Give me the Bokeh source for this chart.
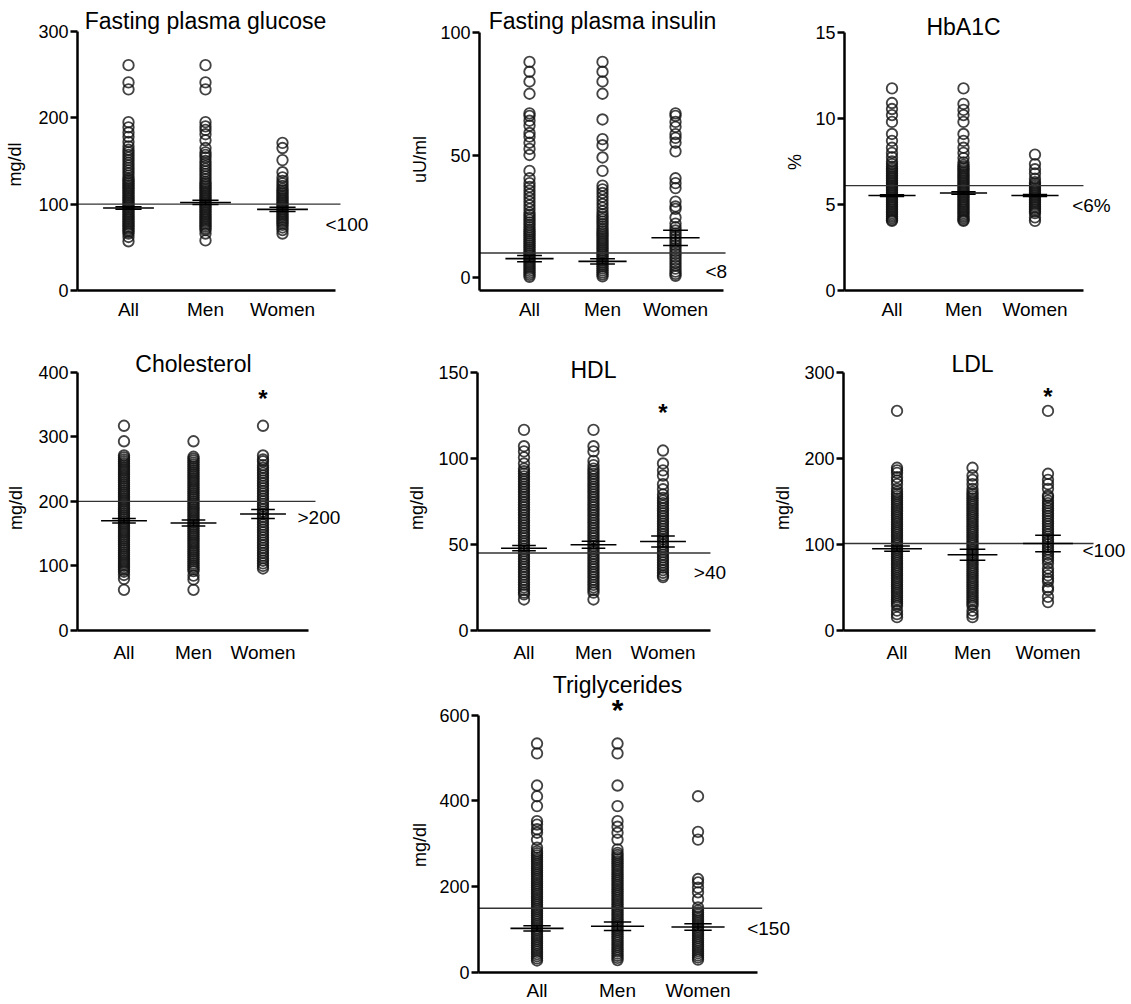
from bokeh.plotting import figure
from bokeh.layouts import row, column
from bokeh.models import FixedTicker, Spacer, Range1d
from bokeh.core.properties import value
from bokeh.embed import file_html
from bokeh.resources import INLINE

FONT = "Liberation Sans"
groups = ["All", "Men", "Women"]

# ---------------- data ----------------
glucose_all = [261, 241, 233, 195, 189, 183, 178, 172, 167, 163, 160, 157, 154, 151, 148, 145, 142, 139,
               136, 133, 130, 128, 126, 124, 122, 120, 118, 116, 114, 112, 110, 108, 106, 104, 102, 100,
               98, 96, 94, 92, 90, 88, 86, 84, 82, 80, 78, 76, 74, 72, 70, 68, 66, 62, 57]
glucose_men = [261, 241, 233, 195, 190, 186, 181, 174, 165, 160, 157, 154, 150, 147, 144, 141, 138, 135,
               132, 129, 126, 124, 122, 120, 118, 116, 114, 112, 110, 108, 106, 104, 102, 100, 98, 96,
               94, 92, 90, 88, 86, 84, 82, 80, 78, 76, 74, 72, 70, 66, 58]
glucose_women = [171, 165, 151, 137, 131, 127, 124, 121, 118, 116, 114, 112, 110, 108, 106, 104, 102, 100,
                 98, 96, 94, 92, 90, 88, 86, 84, 82, 80, 78, 76, 73, 70, 66]
glucose_mean = [95.5, 102, 94]
glucose_sem = [1.5, 2.5, 2.5]

insulin_all = [88, 84, 80, 75, 67, 66, 64, 62, 59, 57.5, 55, 52.5, 50, 43.5, 40.5, 38.5, 37, 35.5, 34,
               32.5, 31, 29.5, 28, 26.5, 25.5, 24.5, 23.5, 22.5, 21.5, 20.5, 19.5, 18.7, 17.9, 17.1, 16.3,
               15.5, 14.7, 13.9, 13.1, 12.3, 11.5, 10.7, 9.9, 9.1, 8.3, 7.5, 6.7, 5.9, 5.1, 4.3, 3.5, 2.7,
               1.9, 1.1, 0.3]
insulin_men = [88, 84, 80, 75, 64.5, 56.5, 54, 49, 43.5, 37.5, 36, 34.5, 33, 31.5, 30, 28.5, 27, 25.8,
               24.8, 23.8, 22.8, 21.8, 20.8, 19.8, 18.9, 18.1, 17.3, 16.5, 15.7, 14.9, 14.1, 13.3, 12.5,
               11.7, 10.9, 10.1, 9.3, 8.5, 7.7, 6.9, 6.1, 5.3, 4.5, 3.7, 2.9, 2.1, 1.3, 0.5]
insulin_women = [67, 66, 63.5, 61.5, 58.5, 57, 55, 51.5, 40.5, 38.5, 36.5, 31, 29, 28, 24.5, 22, 20.5,
                 19.2, 18, 16.8, 15.6, 14.4, 13.2, 12, 10.8, 9.6, 8.4, 7.2, 6, 4.8, 3.6, 2.4, 1.5, 0.7]
insulin_mean = [7.7, 6.6, 16.2]
insulin_sem = [1.25, 1.1, 3.1]

hba1c_all = [11.75, 10.9, 10.55, 10.2, 9.8, 9.1, 8.7, 8.3, 8.0, 7.75, 7.5, 7.35, 7.2, 7.1, 7.0, 6.9, 6.8,
             6.7, 6.6, 6.5, 6.4, 6.3, 6.2, 6.1, 6.0, 5.9, 5.8, 5.7, 5.6, 5.5, 5.4, 5.3, 5.2, 5.1, 5.0, 4.9,
             4.8, 4.7, 4.6, 4.5, 4.4, 4.3, 4.2, 4.1, 4.05]
hba1c_men = [11.75, 10.85, 10.5, 10.2, 9.8, 9.1, 8.7, 8.3, 8.0, 7.7, 7.45, 7.3, 7.2, 7.1, 7.0, 6.9, 6.8,
             6.7, 6.6, 6.5, 6.4, 6.3, 6.2, 6.1, 6.0, 5.9, 5.8, 5.7, 5.6, 5.5, 5.4, 5.3, 5.2, 5.1, 5.0, 4.9,
             4.8, 4.7, 4.6, 4.5, 4.4, 4.3, 4.2, 4.1, 4.05]
hba1c_women = [7.9, 7.35, 7.05, 6.8, 6.5, 6.3, 6.2, 6.1, 6.0, 5.9, 5.8, 5.7, 5.6, 5.5, 5.4, 5.3, 5.2, 5.1,
               5.0, 4.9, 4.8, 4.7, 4.6, 4.5, 4.25, 4.05]
hba1c_mean = [5.52, 5.67, 5.52]
hba1c_sem = [0.05, 0.07, 0.06]

chol_all = [317, 293, 271, 268, 265, 262, 259, 256, 253, 250, 247, 244, 241, 238, 235, 232, 229, 226, 223,
            220, 217, 214, 211, 208, 205, 202, 199, 196, 193, 190, 187, 184, 181, 178, 175, 172, 169, 166,
            163, 160, 157, 154, 151, 148, 145, 142, 139, 136, 133, 130, 127, 124, 121, 118, 115, 112, 109,
            106, 103, 100, 97, 94, 91, 86, 80, 63]
chol_men = [293, 269, 266, 263, 260, 257, 254, 251, 248, 245, 242, 239, 236, 233, 230, 227, 224, 221, 218,
            215, 212, 209, 206, 203, 200, 197, 194, 191, 188, 185, 182, 179, 176, 173, 170, 167, 164, 161,
            158, 155, 152, 149, 146, 143, 140, 137, 134, 131, 128, 125, 122, 119, 116, 113, 110, 107, 104,
            101, 98, 95, 92, 85, 79, 63]
chol_women = [317, 271, 265, 262, 256, 252, 248, 244, 240, 236, 232, 228, 224, 220, 216, 212, 208, 204,
              200, 196, 192, 188, 184, 180, 176, 172, 168, 164, 160, 156, 152, 148, 144, 140, 136, 132,
              128, 124, 120, 116, 112, 108, 104, 100, 96]
chol_mean = [170, 166.5, 180.5]
chol_sem = [3.5, 4.5, 7]

hdl_all = [116.5, 107, 104, 100.5, 97, 94, 92.5, 91, 89.5, 88, 86.5, 85, 83.5, 82, 80.5, 79, 77.5, 76,
           74.5, 73, 71.5, 70, 68.5, 67, 65.5, 64, 62.5, 61, 59.5, 58, 56.5, 55, 53.5, 52, 50.5, 49, 47.5,
           46, 44.5, 43, 41.5, 40, 38.5, 37, 35.5, 34, 32.5, 31, 29.5, 28, 26.5, 25, 23.5, 22, 21, 18]
hdl_men = [116.5, 107, 104, 98.5, 96, 94, 92.5, 91, 89.5, 88, 86.5, 85, 83.5, 82, 80.5, 79, 77.5, 76,
           74.5, 73, 71.5, 70, 68.5, 67, 65.5, 64, 62.5, 61, 59.5, 58, 56.5, 55, 53.5, 52, 50.5, 49, 47.5,
           46, 44.5, 43, 41.5, 40, 38.5, 37, 35.5, 34, 32.5, 31, 29.5, 28, 26.5, 25, 23.5, 22, 18]
hdl_women = [104.5, 97, 93, 90, 85, 82, 79, 77, 75.5, 74, 72.5, 71, 69.5, 68, 66.5, 65, 63.5, 62, 60.5,
             59, 57.5, 56, 54.5, 53, 51.5, 50, 48.5, 47, 45.5, 44, 42.5, 41, 39.5, 38, 36.5, 35, 33.5, 32, 31]
hdl_mean = [47.8, 49.8, 51.7]
hdl_sem = [1.5, 2, 3.2]

ldl_all = [255, 189, 186, 183, 178, 174, 170, 164.5, 161, 158.5, 156, 153.5, 151, 148.5, 146, 143.5, 141,
           138.5, 136, 133.5, 131, 128.5, 126, 123.5, 121, 118.5, 116, 113.5, 111, 108.5, 106, 103.5, 101,
           98.5, 96, 93.5, 91, 88.5, 86, 83.5, 81, 78.5, 76, 73.5, 71, 68.5, 66, 63.5, 61, 58.5, 56, 53.5,
           51, 48.5, 46, 43.5, 41, 38.5, 36, 33.5, 31, 28.5, 23, 19, 15.5]
ldl_men = [189, 180, 175, 170, 164.5, 161, 158.5, 156, 153.5, 151, 148.5, 146, 143.5, 141, 138.5, 136,
           133.5, 131, 128.5, 126, 123.5, 121, 118.5, 116, 113.5, 111, 108.5, 106, 103.5, 101, 98.5, 96,
           93.5, 91, 88.5, 86, 83.5, 81, 78.5, 76, 73.5, 71, 68.5, 66, 63.5, 61, 58.5, 56, 53.5, 51, 48.5,
           46, 43.5, 41, 38.5, 36, 33.5, 31, 28.5, 23, 19, 15.5]
ldl_women = [255, 182, 175, 170, 164.5, 157, 155, 151, 148, 145, 142, 139, 136, 133, 130, 127, 124, 121,
             118, 115, 112, 109, 106, 103, 100, 97, 94, 91, 88, 85, 82, 78, 72, 68, 64, 60, 57, 50, 47, 39, 33]
ldl_mean = [95, 88, 101]
ldl_sem = [3, 6.5, 9.5]

tg_all = [534, 511, 436, 411, 388, 353, 345, 334, 326, 310, 291, 283, 278, 273, 268, 263, 258, 253, 248,
          243, 238, 233, 228, 223, 218, 213, 208, 203, 198, 193, 188, 183, 178, 173, 168, 163, 158, 153,
          148, 143, 138, 133, 128, 123, 118, 113, 108, 103, 98, 93, 88, 83, 78, 73, 68, 63, 58, 53, 48,
          43, 38, 33, 28]
tg_men = [534, 511, 436, 388, 353, 340, 326, 310, 287, 279, 274, 269, 264, 259, 254, 249, 244, 239, 234,
          229, 224, 219, 214, 209, 204, 199, 194, 189, 184, 179, 174, 169, 164, 159, 154, 149, 144, 139,
          134, 129, 124, 119, 114, 109, 104, 99, 94, 89, 84, 79, 74, 69, 64, 59, 54, 49, 44, 39, 34, 29]
tg_women = [411, 328, 310, 218, 210, 198, 187, 171, 152, 145, 140, 135, 130, 125, 120, 115, 110, 105, 100,
            95, 90, 85, 80, 75, 70, 65, 60, 55, 50, 45, 40, 35, 30]
tg_mean = [103, 108, 106]
tg_sem = [6, 10, 7.5]

NBSP = "\u00a0"


def make_panel(title, ylabel, yticks, series, means, sems, ref, ref_text, star, lay):
    p = figure(width=lay["w"], height=lay["h"],
               x_range=Range1d(*lay["xr"]), y_range=Range1d(*lay["yr"]),
               output_backend="svg", toolbar_location=None,
               min_border=0, min_border_left=lay["bl"], min_border_right=0,
               min_border_top=0, min_border_bottom=lay["bb"])
    p.outline_line_color = None
    p.xgrid.visible = False
    p.ygrid.visible = False
    p.background_fill_color = "white"
    p.border_fill_color = "white"

    pos = [i + 1 for i in range(len(groups))]
    xs, ys = [], []
    for xi, vals in zip(pos, series):
        xs += [xi] * len(vals)
        ys += list(vals)
    p.scatter(xs, ys, marker="circle", size=10.5, fill_color=None,
              line_color="#141414", line_width=1.85, line_alpha=0.8)

    # reference line
    p.segment(x0=[lay["xr"][0]], x1=[lay["ref_end"]], y0=[ref], y1=[ref],
              line_color="#333333", line_width=1.4)

    # mean +/- SEM
    lo = [m - s for m, s in zip(means, sems)]
    hi = [m + s for m, s in zip(means, sems)]
    p.segment(x0=pos, x1=pos, y0=lo, y1=hi, line_color="black", line_width=1.5)
    p.segment(x0=[x - 0.33 for x in pos], x1=[x + 0.33 for x in pos], y0=means, y1=means,
              line_color="black", line_width=1.6)
    p.segment(x0=[x - 0.17 for x in pos], x1=[x + 0.17 for x in pos], y0=lo, y1=lo,
              line_color="black", line_width=1.5)
    p.segment(x0=[x - 0.17 for x in pos], x1=[x + 0.17 for x in pos], y0=hi, y1=hi,
              line_color="black", line_width=1.5)

    # texts
    p.text(x=[2], y=[lay["title_y"]], text=[title], text_align="center", text_baseline="middle",
           text_font=value(FONT), text_font_size="23px", text_color="black")
    p.text(x=[lay["ref_lab"][0]], y=[lay["ref_lab"][1]], text=[ref_text], text_align="left",
           text_baseline="middle", text_font=value(FONT), text_font_size="19px", text_color="black")
    if star is not None:
        p.text(x=[star[0]], y=[star[1]], text=["*"], text_align="center", text_baseline="middle",
               text_font=value(FONT), text_font_size=star[2], text_font_style="bold",
               text_color="black")

    xa = p.xaxis[0]
    xa.ticker = FixedTicker(ticks=pos)
    xa.major_label_overrides = {x: g for x, g in zip(pos, groups)}
    xa.bounds = (lay["xr"][0], lay["xend"])
    xa.axis_line_width = 2.5
    xa.axis_line_color = "black"
    xa.major_tick_out = 0
    xa.major_tick_in = 0
    xa.major_tick_line_color = None
    xa.minor_tick_line_color = None
    xa.major_label_text_font = FONT
    xa.major_label_text_font_size = "19px"
    xa.major_label_text_color = "black"
    xa.major_label_standoff = lay["xso"]

    ya = p.yaxis[0]
    ya.ticker = FixedTicker(ticks=yticks)
    ya.bounds = (lay["yr"][0], yticks[-1])
    ya.axis_line_width = 2.5
    ya.axis_line_color = "black"
    ya.major_tick_out = 7
    ya.major_tick_in = 0
    ya.major_tick_line_width = 2.5
    ya.major_tick_line_color = "black"
    ya.minor_tick_line_color = None
    ya.major_label_text_font = FONT
    ya.major_label_text_font_size = "18px"
    ya.major_label_text_color = "black"
    ya.major_label_standoff = 2
    # trailing no-break spaces move the (rotated, frame-centred) label down
    ya.axis_label = ylabel + NBSP * lay["ylab_pad"]
    ya.axis_label_text_font = FONT
    ya.axis_label_text_font_size = "18px"
    ya.axis_label_text_font_style = "normal"
    ya.axis_label_text_color = "black"
    ya.axis_label_standoff = lay["yso"]
    return p


p1 = make_panel("Fasting plasma glucose", "mg/dl", [0, 100, 200, 300],
                [glucose_all, glucose_men, glucose_women], glucose_mean, glucose_sem, 100, "<100", None,
                dict(w=376, h=337, bl=77, bb=55, xr=(0.3377, 4.2208), yr=(0, 326.6), xend=3.688,
                     ref_end=3.753, ref_lab=(3.558, 76), title_y=312.7, yso=10, xso=8, ylab_pad=6))
p2 = make_panel("Fasting plasma insulin", "uU/ml", [0, 50, 100],
                [insulin_all, insulin_men, insulin_women], insulin_mean, insulin_sem, 10, "<8", None,
                dict(w=384, h=337, bl=103, bb=55, xr=(0.315, 4.164), yr=(-5.306, 109.8), xend=3.658,
                     ref_end=3.685, ref_lab=(3.411, 2.4), title_y=104.9, yso=7, xso=8, ylab_pad=4))
p3 = make_panel("HbA1C", "%", [0, 5, 10, 15],
                [hba1c_all, hba1c_men, hba1c_women], hba1c_mean, hba1c_sem, 6.1, "<6%", None,
                dict(w=370, h=337, bl=84, bb=55, xr=(0.3357, 4.336), yr=(0, 16.395), xend=3.678,
                     ref_end=3.678, ref_lab=(3.52, 4.94), title_y=15.31, yso=7, xso=8, ylab_pad=5))
p4 = make_panel("Cholesterol", "mg/dl", [0, 100, 200, 300, 400],
                [chol_all, chol_men, chol_women], chol_mean, chol_sem, 200, ">200", (3, 359, "24px"),
                dict(w=376, h=327, bl=77, bb=42, xr=(0.331, 4.633), yr=(0, 441.3), xend=3.655,
                     ref_end=3.755, ref_lab=(3.496, 175.4), title_y=412.6, yso=9, xso=11, ylab_pad=8))
p5 = make_panel("HDL", "mg/dl", [0, 50, 100, 150],
                [hdl_all, hdl_men, hdl_women], hdl_mean, hdl_sem, 45, ">40", (3, 126.5, "24px"),
                dict(w=384, h=327, bl=101, bb=42, xr=(0.331, 4.403), yr=(0, 165.5), xend=3.683,
                     ref_end=3.683, ref_lab=(3.443, 33.9), title_y=151.4, yso=8, xso=11, ylab_pad=8))
p6 = make_panel("LDL", "mg/dl", [0, 100, 200, 300],
                [ldl_all, ldl_men, ldl_women], ldl_mean, ldl_sem, 101, "<100", (3, 272, "24px"),
                dict(w=370, h=327, bl=83, bb=42, xr=(0.291, 4.093), yr=(0, 331.0), xend=3.629,
                     ref_end=3.603, ref_lab=(3.457, 92.9), title_y=309.7, yso=8, xso=11, ylab_pad=8))
p7 = make_panel("Triglycerides", "mg/dl", [0, 200, 400, 600],
                [tg_all, tg_men, tg_women], tg_mean, tg_sem, 150, "<150", (2, 614, "30px"),
                dict(w=424, h=331, bl=102, bb=29, xr=(0.273, 4.273), yr=(0, 699.6), xend=3.735,
                     ref_end=3.797, ref_lab=(3.611, 102), title_y=669.4, yso=6, xso=7, ylab_pad=9))

layout = column(
    Spacer(width=8, height=8),
    row(p1, p2, p3),
    row(p4, p5, p6),
    row(Spacer(width=376, height=331), p7),
)

with open("out.html", "w") as f:
    f.write(file_html(layout, INLINE))
